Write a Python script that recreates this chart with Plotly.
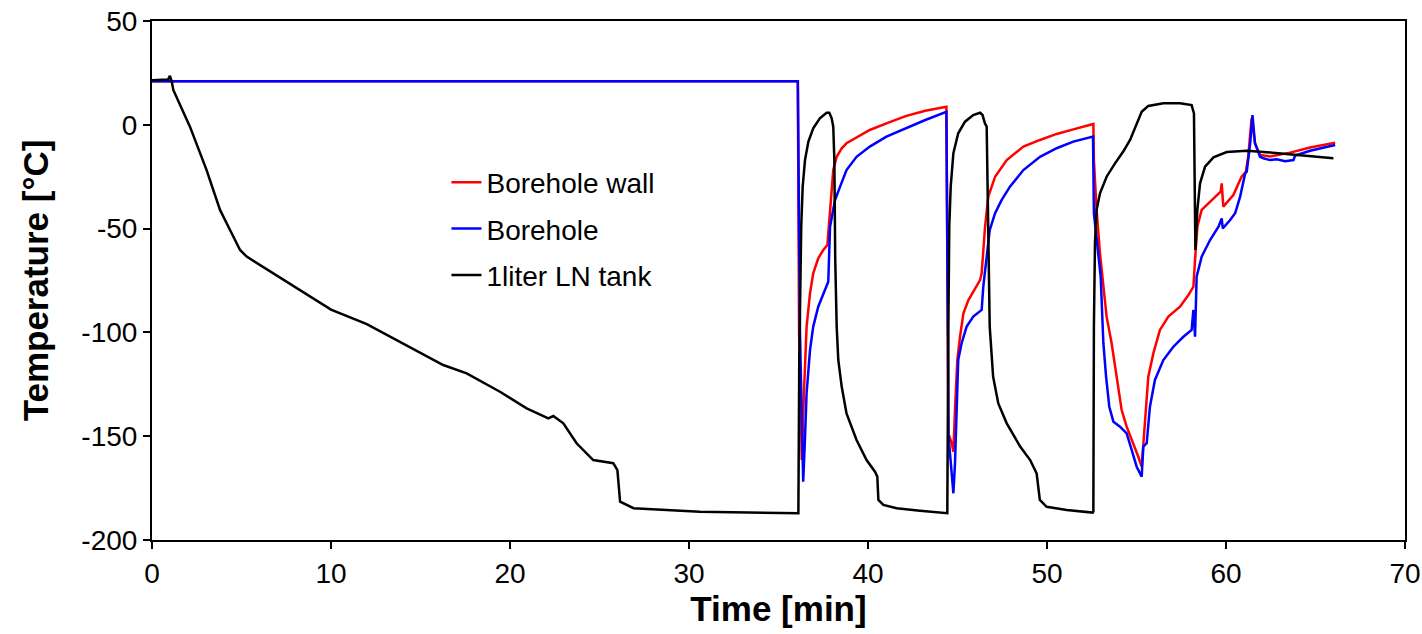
import plotly.graph_objects as go

# ---------------- data ----------------
time_wall = [0, 36.08, 36.15, 36.3, 36.42, 36.57, 36.76, 36.94, 37.22, 37.5, 37.73, 37.88,
             38.06, 38.25, 38.53, 38.8, 39.36, 40.1, 41.03, 42.1, 43.2, 44.38,
             44.43, 44.49, 44.68, 44.77, 44.86, 44.99, 45.14, 45.33, 45.61, 45.88, 46.26, 46.35,
             46.54, 46.72, 47.1, 47.75, 48.68, 49.61, 50.54, 51.47, 52.55,
             52.59, 52.62, 52.77, 52.96, 53.15, 53.33, 53.61, 53.89, 54.17, 54.45, 54.82, 55.1,
             55.29, 55.38, 55.51, 55.66, 55.94, 56.31, 56.78, 57.43, 57.9, 58.18, 58.27, 58.4,
             58.64, 59.3, 59.7, 59.76, 59.85, 60.41, 60.87, 61.11, 61.24, 61.43, 61.62, 61.9,
             62.46, 63.58, 64.7, 66.1]
temp_wall = [21, 21, -100, -161.5, -129.3, -97.2, -81.2, -71.5, -64.3, -60.3, -57.9, -41,
             -21.8, -15.4, -11.3, -8.9, -6.0, -2.5, 0.7, 4.2, 6.8, 8.7,
             -60, -148.6, -153.4, -157.5, -137.4, -113.3, -102.1, -90.8, -84.4, -80.4, -74.8, -71.5,
             -49.1, -34.6, -25, -17, -10.5, -7.3, -4.4, -2.2, 0,
             0.4, -17, -41, -61.9, -78, -92.4, -105.2, -121.3, -137.4, -145.4, -153.4, -159.9,
             -164.7, -153.4, -137.4, -121.3, -110.1, -98.8, -92.4, -87.6, -82, -78, -65.1, -49.1,
             -41, -35.4, -32.2, -28.2, -39.4, -33.8, -25, -22.6, -15.4, 3.1, -8.9, -14.5,
             -15.3, -13.4, -10.9, -8.6]

time_hole = [0, 36.08, 36.2, 36.38, 36.47, 36.57, 36.76, 36.94, 37.22, 37.5, 37.78, 37.88,
             38.16, 38.44, 38.8, 39.36, 40.1, 41.03, 42.1, 43.2, 44.38,
             44.43, 44.5, 44.58, 44.77, 44.86, 44.96, 45.04, 45.23, 45.51, 45.88, 46.35, 46.44,
             46.63, 46.8, 47.1, 47.47, 47.93, 48.68, 49.61, 50.54, 51.47, 52.57,
             52.62, 52.81, 53.0, 53.15, 53.3, 53.48, 53.71, 54.08, 54.45, 54.73, 55.01, 55.29,
             55.38, 55.57, 55.75, 56.03, 56.5, 57.06, 57.62, 58.08, 58.18, 58.27, 58.36, 58.64,
             59.11, 59.58, 59.76, 59.82, 60.23, 60.51, 60.79, 61.07, 61.16, 61.35, 61.48, 61.62,
             61.9, 62.09, 62.46, 62.84, 63.3, 63.77, 63.86, 64.7, 66.1]
temp_hole = [21, 21, -100, -171.9, -153.4, -129.3, -108.5, -97.2, -87.6, -81.2, -75.6, -49.1,
             -36.2, -29.8, -21.8, -15.4, -10.5, -5.7, -1.7, 2.3, 6.3,
             -60, -150, -158.2, -177.5, -163.1, -129.3, -113.3, -105.2, -97.2, -92.4, -89.2, -78,
             -61.9, -50.7, -42.6, -36.2, -29.8, -21.8, -15.4, -11.3, -8.1, -5.7,
             -42.6, -57.1, -73.2, -105.2, -121.3, -135.8, -143, -145.4, -148.6, -156.6, -164.7, -169.5,
             -155, -153.4, -135.8, -122.9, -113.3, -106.9, -102.1, -98.8, -89.2, -102.1, -73.2, -63.5,
             -55.5, -49.1, -45.1, -49.9, -45.9, -42.6, -34.6, -23.4, -22.6, -8.9, 4.7, -8.9,
             -15.4, -16.1, -17, -16.6, -17.5, -17, -14.8, -12.5, -9.7]

time_tank = [0, 0.5, 0.9, 1.0, 1.1, 1.19, 2.12, 3.05, 3.8, 4.36, 4.92, 5.29, 6.78, 9.0, 10.0,
             12.0, 13.85, 16.27, 17.58, 19.44, 20.93, 22.14, 22.42, 22.98, 23.72, 24.65, 25.77,
             26.0, 26.15, 26.9, 30.6, 33.0, 36.08,
             36.11, 36.16, 36.22, 36.27, 36.35, 36.48, 36.67, 36.94, 37.31, 37.69, 37.84, 37.97,
             38.06, 38.12, 38.17, 38.25, 38.34, 38.53, 38.8, 39.36, 39.92, 40.39, 40.52, 40.58,
             40.86, 41.6, 42.9, 44.4,
             44.43, 44.49, 44.54, 44.62, 44.77, 45.04, 45.42, 45.88, 46.26, 46.4, 46.53, 46.63,
             46.68, 46.76, 46.8, 46.99, 47.28, 47.75, 48.5, 49.06, 49.42, 49.6, 49.98, 51.1, 52.55,
             52.59, 52.62, 52.68, 52.77, 52.96, 53.33, 53.8, 54.26, 54.64, 55.01, 55.29, 55.66,
             56.5, 57.43, 58.08, 58.21, 58.25, 58.29, 58.4, 58.55, 58.83, 59.3, 60.04, 61.16,
             62.46, 63.77, 65.07, 66.0]
temp_tank = [21.5, 21.5, 21.8, 23.6, 21, 16.8, -0.9, -21.8, -41, -50.7, -60.3, -63.5, -71.5, -83.4, -89,
             -96, -104.5, -115.7, -119.7, -128.6, -136.6, -141.4, -140.3, -143.8, -153.4, -161.5, -163,
             -166.3, -181.5, -184.7, -186.4, -186.8, -187,
             -187.1, -113.3, -73.2, -49.1, -29.8, -17, -8.1, -1.7, 3.1, 5.8, 5.8, 3.1,
             -0.9, -17, -65.1, -97.2, -113.3, -126.1, -139, -151.8, -161.5, -167.1, -169.5, -180.7,
             -183.1, -184.7, -185.9, -187.1,
             -187.1, -97.2, -49.1, -29.8, -13.7, -4.1, 1.5, 4.7, 5.8, 4.7, 0.7, -0.9,
             -25, -65.1, -97.2, -121.3, -134.2, -143.8, -155, -161.5, -167.9, -180.7, -184, -185.5, -186.8,
             -186.3, -97.2, -57.1, -41, -33, -25, -18.6, -12.9, -7.3, 0.7, 6.3, 9.1,
             10.4, 10.4, 9.5, 5.5, -33, -60.3, -41, -28.2, -20.2, -15.7, -13.1, -12.5,
             -13.3, -14.5, -15.4, -16.1]

x_ticks = [0, 10, 20, 30, 40, 50, 60, 70]
y_ticks = [-200, -150, -100, -50, 0, 50]
y_tick_text = ["-200", "-150", "-100", "-50", "0", "50"]

# ---------------- figure ----------------
fig = go.Figure()
fig.add_trace(go.Scatter(x=time_wall, y=temp_wall, mode="lines", name="Borehole wall",
                         line=dict(color="#FF0000", width=2.5), legendgroup="a"))
fig.add_trace(go.Scatter(x=time_hole, y=temp_hole, mode="lines", name="Borehole",
                         line=dict(color="#0000FF", width=2.5), legendgroup="b"))
fig.add_trace(go.Scatter(x=time_tank, y=temp_tank, mode="lines", name="1liter LN tank",
                         line=dict(color="#000000", width=2.5), legendgroup="c"))

axis_common = dict(showgrid=False, zeroline=False, showline=True, linecolor="black",
                   linewidth=2, mirror=True, ticks="outside", ticklen=7, tickwidth=1.5,
                   tickcolor="black", automargin=False,
                   tickfont=dict(size=28, color="black", family="Liberation Sans, Arial"))

fig.update_layout(
    width=1422, height=634,
    margin=dict(l=152, r=17, t=21, b=94),
    plot_bgcolor="white", paper_bgcolor="white",
    font=dict(family="Liberation Sans, Arial", color="black"),
    xaxis=dict(range=[0, 70], tickvals=x_ticks,
               title=dict(text="Time [min]", standoff=6,
                          font=dict(size=35, weight="bold", color="black")),
               **axis_common),
    yaxis=dict(range=[-200, 50], tickvals=y_ticks, ticktext=y_tick_text,
               title=dict(text="Temperature [°C]", standoff=22,
                          font=dict(size=35, weight="bold", color="black")),
               **axis_common),
    legend=dict(x=0.235, y=0.737, xanchor="left", yanchor="top",
                bgcolor="rgba(0,0,0,0)", borderwidth=0, tracegroupgap=7,
                font=dict(size=28, color="black", family="Liberation Sans, Arial")),
    showlegend=True,
)

fig.write_html("out.html")
